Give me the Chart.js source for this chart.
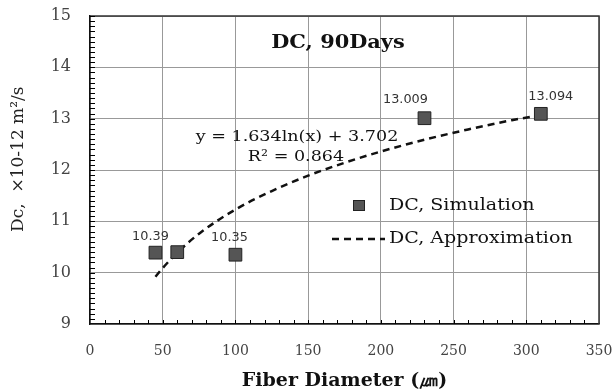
<!DOCTYPE html>
<html>
<head>
<meta charset="utf-8">
<script src="https://cdn.jsdelivr.net/npm/chart.js@4"></script>
<style>
  html, body { margin: 0; padding: 0; background: #ffffff; }
  #wrap { width: 614px; height: 392px; }
</style>
</head>
<body>
<div id="wrap"><canvas id="chart" width="614" height="392"></canvas></div>
<script>
  // simulation points
  const diameters = [45, 60, 100, 230, 310]
  const dcValues = [10.39, 10.4, 10.35, 13.009, 13.094]
  const pointLabels = ['10.39', '', '10.35', '13.009', '13.094']

  // log approximation
  const fitX = [45, 50, 60, 75, 100, 125, 150, 175, 200, 230, 260, 290, 310]
  const fitY = [9.92, 10.09, 10.39, 10.76, 11.23, 11.59, 11.89, 12.14, 12.36, 12.59, 12.79, 12.97, 13.07]

  const xTicks = [0, 50, 100, 150, 200, 250, 300, 350]
  const yTicks = [9, 10, 11, 12, 13, 14, 15]

  const serif = '"DejaVu Serif", "Liberation Serif", serif'
  const sans = '"DejaVu Sans", sans-serif'

  // label offsets from each point [dx, dy]
  const labelShift = [[-5, -16], [0, 0], [-6, -17], [-19, -18], [10, -17]]

  // the source picture is a bit wide, so the free text is stretched
  function wideText(ctx, text, x, y, font, align, sx) {
    ctx.save()
    ctx.font = font
    ctx.textAlign = align
    ctx.textBaseline = 'middle'
    ctx.translate(x, y)
    ctx.scale(sx, 1)
    ctx.fillText(text, 0, 0)
    ctx.restore()
  }

  const extras = {
    id: 'extras',
    afterDatasetsDraw(chart) {
      const { ctx, chartArea: a, scales: { x, y } } = chart
      ctx.save()
      // frame on top and right
      ctx.strokeStyle = '#333'
      ctx.lineWidth = 1.5
      ctx.beginPath()
      ctx.moveTo(a.left, a.top)
      ctx.lineTo(a.right, a.top)
      ctx.lineTo(a.right, a.bottom)
      ctx.stroke()

      // minor ticks, inside the axes
      ctx.strokeStyle = '#000'
      ctx.lineWidth = 1
      ctx.beginPath()
      for (let v = 9.1; v < 15; v += 0.1) {
        const py = Math.round(y.getPixelForValue(v)) + 0.5
        ctx.moveTo(a.left, py)
        ctx.lineTo(a.left + 5, py)
      }
      for (let v = 10; v < 350; v += 10) {
        const px = Math.round(x.getPixelForValue(v)) + 0.5
        ctx.moveTo(px, a.bottom)
        ctx.lineTo(px, a.bottom - 4)
      }
      ctx.stroke()

      // title + equation
      ctx.fillStyle = '#111'
      wideText(ctx, 'DC, 90Days', 338, 43, 'bold 18px ' + serif, 'center', 1.16)
      wideText(ctx, 'y = 1.634ln(x) + 3.702', 297, 137, '15px ' + serif, 'center', 1.17)
      wideText(ctx, 'R² = 0.864', 296, 157, '15px ' + serif, 'center', 1.17)

      // data labels
      ctx.fillStyle = '#333'
      const meta = chart.getDatasetMeta(0)
      meta.data.forEach((pt, i) => {
        if (!pointLabels[i]) return
        wideText(ctx, pointLabels[i], pt.x + labelShift[i][0], pt.y + labelShift[i][1], '12px ' + sans, 'center', 1.07)
      })

      // legend
      ctx.fillStyle = '#555'
      ctx.strokeStyle = '#222'
      ctx.lineWidth = 1
      ctx.fillRect(353, 200, 12, 11)
      ctx.strokeRect(353.5, 200.5, 11, 10)
      ctx.beginPath()
      ctx.setLineDash([7, 5])
      ctx.lineWidth = 2.5
      ctx.strokeStyle = '#111'
      ctx.moveTo(332, 239)
      ctx.lineTo(385, 239)
      ctx.stroke()
      ctx.setLineDash([])
      ctx.fillStyle = '#111'
      wideText(ctx, 'DC, Simulation', 389, 206, '16px ' + serif, 'left', 1.19)
      wideText(ctx, 'DC, Approximation', 389, 239, '16px ' + serif, 'left', 1.19)
      ctx.restore()
    }
  }

  new Chart(document.getElementById('chart'), {
    type: 'scatter',
    data: {
      datasets: [
        {
          label: 'DC, Simulation',
          data: diameters.map((d, i) => ({ x: d, y: dcValues[i] })),
          pointStyle: 'rect',
          pointRadius: 9,
          backgroundColor: '#555555',
          borderColor: '#222222',
          borderWidth: 1,
          order: 0
        },
        {
          label: 'DC, Approximation',
          type: 'line',
          data: fitX.map((d, i) => ({ x: d, y: fitY[i] })),
          borderColor: '#111111',
          borderWidth: 2.5,
          borderDash: [7, 5],
          pointRadius: 0,
          cubicInterpolationMode: 'monotone',
          fill: false,
          order: 1
        }
      ]
    },
    options: {
      responsive: false,
      animation: false,
      layout: { padding: { left: 0, right: 15, top: 16, bottom: 0 } },
      plugins: {
        legend: { display: false },
        tooltip: { enabled: false }
      },
      scales: {
        x: {
          type: 'linear',
          min: 0,
          max: 350,
          afterBuildTicks: (s) => { s.ticks = xTicks.map((v) => ({ value: v })) },
          afterFit: (s) => {
            s.height = 68
            s.paddingLeft = 0
            s.paddingRight = 0
          },
          grid: { color: '#999999', drawTicks: false },
          border: { color: '#111111', width: 1.5 },
          ticks: {
            color: '#444',
            padding: 19,
            maxRotation: 0,
            font: { family: serif, size: 14 }
          },
          title: {
            display: true,
            text: 'Fiber Diameter (㎛)',
            color: '#111',
            font: { family: serif, size: 19, weight: 'bold' },
            padding: { top: 0, bottom: 0 }
          }
        },
        y: {
          min: 9,
          max: 15,
          afterBuildTicks: (s) => { s.ticks = yTicks.map((v) => ({ value: v })) },
          afterFit: (s) => {
            s.width = 90
            s.paddingTop = 0
            s.paddingBottom = 0
          },
          grid: { color: '#999999', drawTicks: false },
          border: { color: '#111111', width: 1.5 },
          ticks: {
            color: '#444',
            padding: 19,
            font: { family: serif, size: 16 }
          },
          title: {
            display: true,
            text: '    Dc,  ×10-12 m²/s',
            color: '#222',
            font: { family: serif, size: 17 },
            padding: { top: 8, bottom: 0 }
          }
        }
      }
    },
    plugins: [extras]
  })
</script>
</body>
</html>
